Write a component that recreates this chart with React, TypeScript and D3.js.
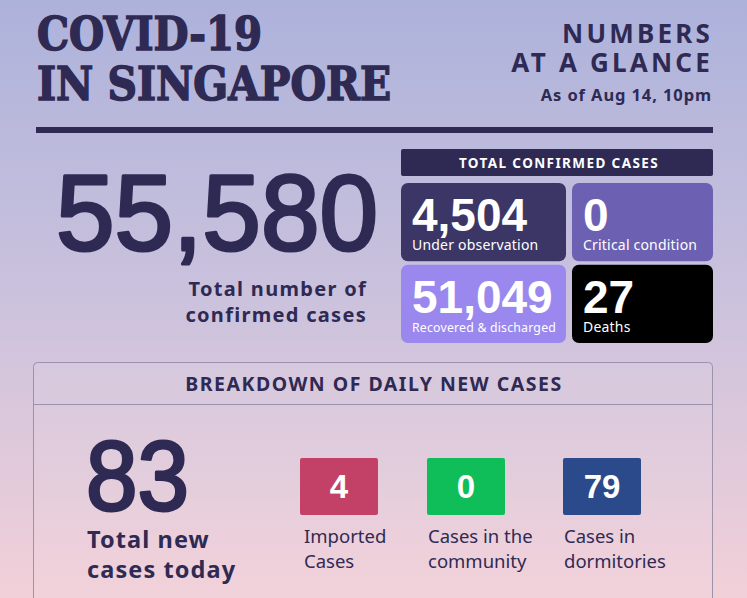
import { useRef, useEffect, FC } from 'react';
import * as d3 from 'd3';

// headline figures
const totalConfirmed = 55580;
const totalNewToday = 83;

// 2x2 breakdown of confirmed cases
const statusLabels = ['Under observation', 'Critical condition', 'Recovered & discharged', 'Deaths'];
const statusValues = [4504, 0, 51049, 27];
const statusColors = ['#3c3667', '#6b60b2', '#9a88ee', '#000000'];

// daily new cases
const dailyLabels = [['Imported', 'Cases'], ['Cases in the', 'community'], ['Cases in', 'dormitories']];
const dailyValues = [4, 0, 79];
const dailyColors = ['#c34167', '#0fbe58', '#2a4a8b'];

const W = 747;
const H = 598;
const INK = '#2e2a53';
const SANS = "'Liberation Sans', Arial, sans-serif";
const SANS2 = "'Noto Sans', 'Open Sans', sans-serif";

const App: FC = () => {
  const svgRef = useRef<SVGSVGElement | null>(null);

  useEffect(() => {
    const svg = d3.select(svgRef.current).attr('width', W).attr('height', H);
    svg.selectAll('*').remove();
    const fmt = d3.format(',');

    const defs = svg.append('defs');
    const grad = defs
      .append('linearGradient')
      .attr('id', 'bg')
      .attr('x1', 0)
      .attr('y1', 0)
      .attr('x2', 0)
      .attr('y2', 1);
    grad.append('stop').attr('offset', '0%').attr('stop-color', '#adb2db');
    grad.append('stop').attr('offset', '50%').attr('stop-color', '#cbc2dd');
    grad.append('stop').attr('offset', '100%').attr('stop-color', '#f2d0d8');

    svg.append('rect').attr('width', W).attr('height', H).attr('fill', 'url(#bg)');

    // title - slab serif, squeezed to the reference widths
    const title = svg
      .append('g')
      .attr('font-family', "'DejaVu Serif', serif")
      .attr('font-weight', 'bold')
      .attr('fill', INK)
      .attr('stroke', INK)
      .attr('stroke-width', 1.6)
      .attr('font-size', 47);
    title
      .append('text')
      .attr('x', 37)
      .attr('y', 50)
      .attr('textLength', 225)
      .attr('lengthAdjust', 'spacingAndGlyphs')
      .text('COVID-19');
    title
      .append('text')
      .attr('x', 37)
      .attr('y', 100)
      .attr('textLength', 354)
      .attr('lengthAdjust', 'spacingAndGlyphs')
      .text('IN SINGAPORE');

    const right = svg
      .append('g')
      .attr('font-family', SANS2)
      .attr('font-weight', 'bold')
      .attr('fill', INK)
      .attr('text-anchor', 'end');
    right.append('text').attr('x', 713).attr('y', 43).attr('font-size', 26).attr('letter-spacing', 3.2).text('NUMBERS');
    right.append('text').attr('x', 713).attr('y', 72).attr('font-size', 26).attr('letter-spacing', 3.2).text('AT A GLANCE');
    right.append('text').attr('x', 712).attr('y', 101).attr('font-size', 16.5).attr('letter-spacing', 0.9).text('As of Aug 14, 10pm');

    svg.append('rect').attr('x', 36).attr('y', 127).attr('width', 677).attr('height', 6).attr('fill', INK);

    // big total
    svg
      .append('text')
      .attr('x', 378)
      .attr('y', 250)
      .attr('text-anchor', 'end')
      .attr('font-family', SANS)
      .attr('font-size', 108)
      .attr('fill', INK)
      .attr('stroke', INK)
      .attr('stroke-width', 3.2)
      .attr('stroke-linejoin', 'round')
      .attr('textLength', 322)
      .attr('lengthAdjust', 'spacingAndGlyphs')
      .text(fmt(totalConfirmed));
    const sub = svg
      .append('g')
      .attr('font-family', SANS2)
      .attr('font-weight', 'bold')
      .attr('font-size', 20)
      .attr('letter-spacing', 1.3)
      .attr('fill', INK)
      .attr('text-anchor', 'end');
    sub.append('text').attr('x', 367).attr('y', 296).text('Total number of');
    sub.append('text').attr('x', 367).attr('y', 322).text('confirmed cases');

    // total confirmed cases panel
    svg.append('rect').attr('x', 401).attr('y', 149).attr('width', 312).attr('height', 27).attr('rx', 2).attr('fill', INK);
    svg
      .append('text')
      .attr('x', 559)
      .attr('y', 168)
      .attr('text-anchor', 'middle')
      .attr('font-family', SANS2)
      .attr('font-weight', 'bold')
      .attr('font-size', 13.5)
      .attr('letter-spacing', 1.4)
      .attr('fill', '#ffffff')
      .text('TOTAL CONFIRMED CASES');

    const colX = d3.scaleOrdinal<number, number>().domain([0, 1]).range([401, 572]);
    const colW = d3.scaleOrdinal<number, number>().domain([0, 1]).range([165, 141]);
    const rowY = d3.scaleBand<number>().domain([0, 1]).range([183, 343]).paddingInner(0.04);

    const cells = svg
      .append('g')
      .selectAll('g')
      .data(statusValues.map((v, i) => ({ v, i, label: statusLabels[i], col: i % 2, row: Math.floor(i / 2) })))
      .join('g')
      .attr('transform', d => `translate(${colX(d.col)},${rowY(d.row)})`);
    cells
      .append('rect')
      .attr('width', d => colW(d.col))
      .attr('height', rowY.bandwidth())
      .attr('rx', 7)
      .attr('fill', d => statusColors[d.i]);
    cells
      .append('text')
      .attr('x', 11)
      .attr('y', 48)
      .attr('font-family', SANS)
      .attr('font-weight', 'bold')
      .attr('font-size', 46)
      .attr('fill', '#ffffff')
      .text(d => fmt(d.v));
    cells
      .append('text')
      .attr('x', 11)
      .attr('y', 67)
      .attr('font-family', SANS2)
      .attr('font-size', d => (d.i === 2 ? 12.3 : 14))
      .attr('letter-spacing', 0.2)
      .attr('fill', '#ffffff')
      .text(d => d.label);

    // daily breakdown panel
    svg
      .append('rect')
      .attr('x', 33.5)
      .attr('y', 362.5)
      .attr('width', 679)
      .attr('height', 260)
      .attr('rx', 4)
      .attr('fill', '#ffffff')
      .attr('fill-opacity', 0.06)
      .attr('stroke', '#9b93ab')
      .attr('stroke-width', 1);
    svg.append('line').attr('x1', 34).attr('x2', 712).attr('y1', 404.5).attr('y2', 404.5).attr('stroke', '#9b93ab');
    svg
      .append('text')
      .attr('x', 374)
      .attr('y', 391)
      .attr('text-anchor', 'middle')
      .attr('font-family', SANS2)
      .attr('font-weight', 'bold')
      .attr('font-size', 19.5)
      .attr('letter-spacing', 1.5)
      .attr('fill', INK)
      .text('BREAKDOWN OF DAILY NEW CASES');

    svg
      .append('text')
      .attr('x', 86)
      .attr('y', 510)
      .attr('font-family', SANS)
      .attr('font-size', 98)
      .attr('fill', INK)
      .attr('stroke', INK)
      .attr('stroke-width', 3)
      .attr('stroke-linejoin', 'round')
      .attr('textLength', 103)
      .attr('lengthAdjust', 'spacingAndGlyphs')
      .text(totalNewToday);
    const tn = svg
      .append('g')
      .attr('font-family', SANS2)
      .attr('font-weight', 'bold')
      .attr('font-size', 23.5)
      .attr('letter-spacing', 1.1)
      .attr('fill', INK);
    tn.append('text').attr('x', 87).attr('y', 548).text('Total new');
    tn.append('text').attr('x', 87).attr('y', 578).text('cases today');

    const dx = d3.scaleOrdinal<number, number>().domain([0, 1, 2]).range([300, 427, 563]);
    const daily = svg
      .append('g')
      .selectAll('g')
      .data(dailyValues.map((v, i) => ({ v, i })))
      .join('g')
      .attr('transform', d => `translate(${dx(d.i)},458)`);
    daily.append('rect').attr('width', 78).attr('height', 57).attr('rx', 2).attr('fill', d => dailyColors[d.i]);
    daily
      .append('text')
      .attr('x', 39)
      .attr('y', 40)
      .attr('text-anchor', 'middle')
      .attr('font-family', SANS)
      .attr('font-weight', 'bold')
      .attr('font-size', 33)
      .attr('fill', '#ffffff')
      .text(d => d.v);
    daily
      .selectAll('text.lbl')
      .data(d => dailyLabels[d.i])
      .join('text')
      .attr('class', 'lbl')
      .attr('x', (_d, j, n) => (d3.select(n[j].parentNode as SVGGElement).datum() as { i: number }).i === 0 ? 4 : 1)
      .attr('y', (_d, j) => 85 + j * 25)
      .attr('font-family', SANS2)
      .attr('font-size', 18.5)
      .attr('fill', INK)
      .text(d => d);
  }, []);

  return <svg ref={svgRef} style={{ position: 'absolute', left: 0, top: 0 }}></svg>;
};

export default App;
